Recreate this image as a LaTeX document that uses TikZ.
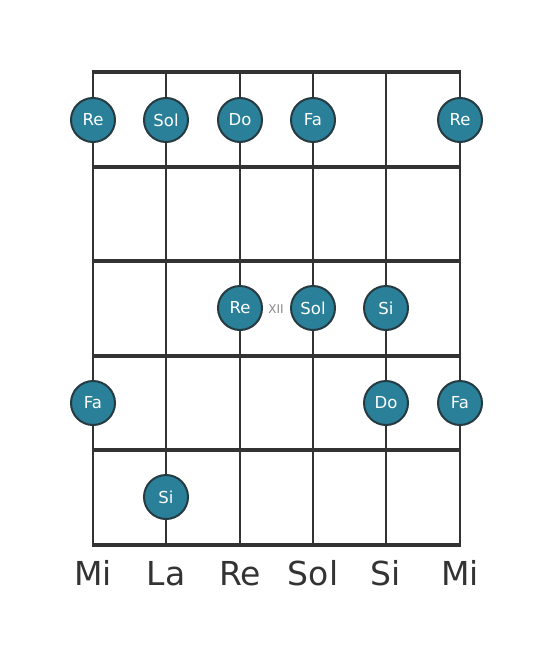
\documentclass[tikz,border=0pt]{standalone}
\usepackage{fontspec}
\setmainfont{DejaVu Sans}
\definecolor{notefill}{HTML}{2A8099}
\definecolor{noteedge}{HTML}{263A42}
\definecolor{ink}{HTML}{333333}
\definecolor{xiigray}{HTML}{8A8A8A}
\begin{document}
\begin{tikzpicture}[x=1pt,y=-1pt,
  fretline/.style={line width=4.5pt,draw=ink},
  stringline/.style={line width=2.6pt,draw=ink},
  note/.style={circle,fill=notefill,draw=noteedge,line width=2pt,minimum size=44pt,inner sep=0pt,text=white,font=\fontsize{16.5}{16.5}\selectfont},
  strlabel/.style={text=ink,font=\fontsize{33}{33}\selectfont,anchor=base}]
\useasboundingbox[fill=white] (0,0) rectangle (553,656);
% frets
\foreach \y [count=\i] in {72,167,261,356,450,545} {
  \coordinate (fl\i) at (91.7,\y);
  \coordinate (fr\i) at (461.3,\y);
}
% strings
\foreach \x [count=\j] in {93,166,240,313,386,460} {
  \coordinate (st\j) at (\x,72);
  \coordinate (sb\j) at (\x,545);
  \draw[stringline] (st\j) -- (sb\j);
}
\foreach \i in {1,...,6} { \draw[fretline] (fl\i) -- (fr\i); }
% notes
\node[note] (n1) at (93,120) {Re};
\node[note] (n2) at (166,120) {Sol};
\node[note] (n3) at (240,120) {Do};
\node[note] (n4) at (313,120) {Fa};
\node[note] (n5) at (460,120) {Re};
\node[note] (n6) at (240,308) {Re};
\node[note] (n7) at (313,308) {Sol};
\node[note] (n8) at (386,308) {Si};
\node[note] (n9) at (93,403) {Fa};
\node[note] (n10) at (386,403) {Do};
\node[note] (n11) at (460,403) {Fa};
\node[note] (n12) at (166,497) {Si};
\node[text=xiigray,font=\fontsize{12}{12}\selectfont] (xii) at (276,309) {XII};
% string names
\node[strlabel] (l1) at (93,585) {Mi};
\node[strlabel] (l2) at (166,585) {La};
\node[strlabel] (l3) at (240,585) {Re};
\node[strlabel] (l4) at (313,585) {Sol};
\node[strlabel] (l5) at (386,585) {Si};
\node[strlabel] (l6) at (460,585) {Mi};
\end{tikzpicture}
\end{document}
